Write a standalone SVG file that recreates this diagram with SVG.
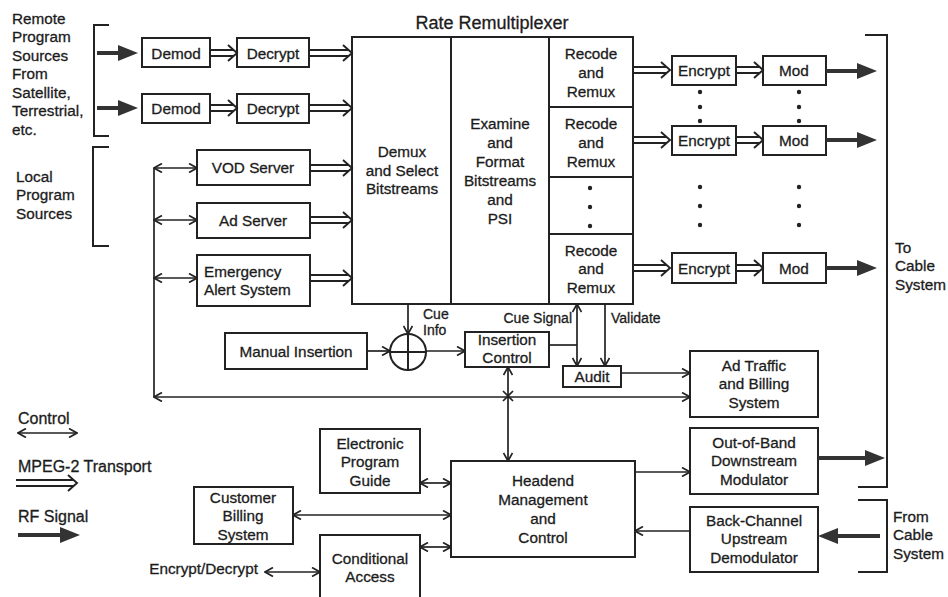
<svg xmlns="http://www.w3.org/2000/svg" width="948" height="597" viewBox="0 0 948 597">
<defs>
<style>
text{font-family:"Liberation Sans",Arial,sans-serif;font-size:15.3px;fill:#1c1c1c;stroke:#1c1c1c;stroke-width:0.3}
.c{text-anchor:middle}
.s{font-size:14px}
.t{font-size:18px}
.lg{font-size:16px}
rect,.box{fill:#fff;stroke:#222;stroke-width:2}
.ln{fill:none;stroke:#222;stroke-width:1.7}
.ctl{fill:none;stroke:#222;stroke-width:1.7;marker-end:url(#ah);marker-start:url(#ah)}
.one{fill:none;stroke:#222;stroke-width:1.7;marker-end:url(#ah)}
.dbl{fill:none;stroke:#222;stroke-width:1.9;stroke-linejoin:miter}
.rf{fill:none;stroke:#333;stroke-width:4;marker-end:url(#rf)}
.br{fill:none;stroke:#222;stroke-width:2}
.dot{fill:#222}
</style>
<marker id="ah" viewBox="0 0 10 10" refX="9" refY="5" markerWidth="10" markerHeight="10" markerUnits="userSpaceOnUse" orient="auto-start-reverse">
<path d="M1,0.5 L9,5 L1,9.5" fill="none" stroke="#222" stroke-width="1.7"/>
</marker>
<marker id="rf" viewBox="0 0 20 16" refX="4" refY="8" markerWidth="20" markerHeight="16" markerUnits="userSpaceOnUse" orient="auto">
<path d="M0,0 L20,8 L0,16 Z" fill="#333"/>
</marker>
</defs>
<rect x="0" y="0" width="948" height="597" style="fill:#fff;stroke:none"/>

<g id="remote-sources">
<text x="12" y="23.5">Remote</text>
<text x="12" y="42">Program</text>
<text x="12" y="60.5">Sources</text>
<text x="12" y="79">From</text>
<text x="12" y="97.5">Satellite,</text>
<text x="12" y="116">Terrestrial,</text>
<text x="12" y="134.5">etc.</text>
<path class="br" d="M109,25 H94 V136 H109"/>
</g>
<g id="local-sources">
<text x="16" y="181.5">Local</text>
<text x="16" y="200">Program</text>
<text x="16" y="218.5">Sources</text>
<path class="br" d="M109,147 H93 V246 H109"/>
</g>
<g id="to-cable">
<path class="br" d="M865,35 H887 V487 H858"/>
<text x="895" y="252.5">To</text>
<text x="895" y="271">Cable</text>
<text x="895" y="289.5">System</text>
</g>
<g id="from-cable">
<path class="br" d="M858,500 H887 V572 H858"/>
<text x="893" y="521.5">From</text>
<text x="893" y="540">Cable</text>
<text x="893" y="558.5">System</text>
</g>

<g id="demod1"><rect x="142" y="38" width="68" height="29"/><text class="c" x="176" y="58.5">Demod</text></g>
<g id="decrypt1"><rect x="237" y="38" width="72" height="29"/><text class="c" x="273" y="58.5">Decrypt</text></g>
<g id="demod2"><rect x="142" y="94" width="68" height="29"/><text class="c" x="176" y="114">Demod</text></g>
<g id="decrypt2"><rect x="237" y="94" width="72" height="29"/><text class="c" x="273" y="114">Decrypt</text></g>

<g id="vod"><rect x="197" y="150" width="113" height="35"/><text class="c" x="253" y="173">VOD Server</text></g>
<g id="adserver"><rect x="197" y="203" width="113" height="35"/><text class="c" x="253" y="226">Ad Server</text></g>
<g id="eas"><rect x="197" y="255" width="113" height="51"/><text x="204" y="276.5">Emergency</text><text x="204" y="295">Alert System</text></g>

<g id="remux">
<text class="c t" x="492" y="29">Rate Remultiplexer</text>
<rect x="352" y="37" width="281" height="267"/>
<path class="ln" style="stroke-width:2" d="M451,37 V304 M549,37 V304 M549,107 H633 M549,177 H633 M549,234 H633"/>
<text class="c" x="402" y="157">Demux</text>
<text class="c" x="402" y="175.5">and Select</text>
<text class="c" x="402" y="194">Bitstreams</text>
<text class="c" x="500" y="128.5">Examine</text>
<text class="c" x="500" y="147.5">and</text>
<text class="c" x="500" y="166.5">Format</text>
<text class="c" x="500" y="185.5">Bitstreams</text>
<text class="c" x="500" y="204.5">and</text>
<text class="c" x="500" y="223.5">PSI</text>
<text class="c" x="591" y="58.5">Recode</text>
<text class="c" x="591" y="77.5">and</text>
<text class="c" x="591" y="96.5">Remux</text>
<text class="c" x="591" y="128.5">Recode</text>
<text class="c" x="591" y="147.5">and</text>
<text class="c" x="591" y="166.5">Remux</text>
<circle class="dot" cx="590" cy="188" r="2.2"/>
<circle class="dot" cx="590" cy="207" r="2.2"/>
<circle class="dot" cx="590" cy="226" r="2.2"/>
<text class="c" x="591" y="255.5">Recode</text>
<text class="c" x="591" y="274">and</text>
<text class="c" x="591" y="292.5">Remux</text>
</g>

<g id="encrypt1"><rect x="672" y="56" width="64" height="29"/><text class="c" x="704" y="76">Encrypt</text></g>
<g id="mod1"><rect x="763" y="56" width="63" height="29"/><text class="c" x="794" y="76">Mod</text></g>
<g id="encrypt2"><rect x="672" y="126" width="64" height="29"/><text class="c" x="704" y="146">Encrypt</text></g>
<g id="mod2"><rect x="763" y="126" width="63" height="29"/><text class="c" x="794" y="146">Mod</text></g>
<g id="encrypt3"><rect x="672" y="253" width="64" height="30"/><text class="c" x="704" y="273.5">Encrypt</text></g>
<g id="mod3"><rect x="763" y="253" width="63" height="30"/><text class="c" x="794" y="273.5">Mod</text></g>
<g id="dots">
<circle class="dot" cx="700" cy="92" r="2.2"/><circle class="dot" cx="700" cy="107" r="2.2"/><circle class="dot" cx="700" cy="121" r="2.2"/>
<circle class="dot" cx="799" cy="92" r="2.2"/><circle class="dot" cx="799" cy="107" r="2.2"/><circle class="dot" cx="799" cy="121" r="2.2"/>
<circle class="dot" cx="700" cy="187" r="2.2"/><circle class="dot" cx="700" cy="206" r="2.2"/><circle class="dot" cx="700" cy="225" r="2.2"/>
<circle class="dot" cx="799" cy="187" r="2.2"/><circle class="dot" cx="799" cy="206" r="2.2"/><circle class="dot" cx="799" cy="225" r="2.2"/>
</g>

<g id="manual"><rect x="225" y="333" width="142" height="36"/><text class="c" x="296" y="356.5">Manual Insertion</text></g>
<g id="summer"><circle cx="408" cy="352" r="18" style="fill:#fff;stroke:#222;stroke-width:2"/><path class="ln" style="stroke-width:2" d="M408,334 V370 M390,352 H426"/></g>
<g id="inscontrol"><rect x="465" y="332" width="84" height="35"/><text class="c" x="507" y="345">Insertion</text><text class="c" x="507" y="363">Control</text></g>
<g id="audit"><rect x="563" y="366" width="58" height="21"/><text class="c" x="592" y="382">Audit</text></g>
<g id="adtraffic"><rect x="690" y="351" width="128" height="66"/><text class="c" x="754" y="370.5">Ad Traffic</text><text class="c" x="754" y="389">and Billing</text><text class="c" x="754" y="407.5">System</text></g>

<g id="epg"><rect x="320" y="429" width="100" height="64"/><text class="c" x="370" y="448.5">Electronic</text><text class="c" x="370" y="467">Program</text><text class="c" x="370" y="485.5">Guide</text></g>
<g id="billing"><rect x="194" y="487" width="99" height="57"/><text class="c" x="243" y="502.5">Customer</text><text class="c" x="243" y="521">Billing</text><text class="c" x="243" y="539.5">System</text></g>
<g id="ca"><rect x="320" y="535" width="100" height="63"/><text class="c" x="370" y="563.5">Conditional</text><text class="c" x="370" y="582">Access</text></g>
<g id="headend"><rect x="451" y="461" width="184" height="96"/><text class="c" x="543" y="485.5">Headend</text><text class="c" x="543" y="504.5">Management</text><text class="c" x="543" y="523.5">and</text><text class="c" x="543" y="542.5">Control</text></g>
<g id="oob"><rect x="690" y="428" width="128" height="66"/><text class="c" x="754" y="447.5">Out-of-Band</text><text class="c" x="754" y="466">Downstream</text><text class="c" x="754" y="484.5">Modulator</text></g>
<g id="backchannel"><rect x="690" y="507" width="128" height="65"/><text class="c" x="754" y="525.5">Back-Channel</text><text class="c" x="754" y="544">Upstream</text><text class="c" x="754" y="562.5">Demodulator</text></g>

<g id="labels">
<text class="s" x="423" y="319">Cue</text>
<text class="s" x="423" y="335">Info</text>
<text class="s" x="572" y="323" text-anchor="end">Cue Signal</text>
<text class="s" x="611" y="323">Validate</text>
<text x="258" y="573.5" text-anchor="end">Encrypt/Decrypt</text>
</g>

<g id="legend">
<text class="lg" x="18" y="424">Control</text>
<path class="ctl" d="M18,433 H77"/>
<text class="lg" x="18" y="472">MPEG-2 Transport</text>
<path class="dbl" d="M16,480 H74 M16,486 H74 M68,475 L77,483 L68,491"/>
<text class="lg" x="18" y="522">RF Signal</text>
<path class="rf" d="M18,535 H64"/>
</g>

<g id="connectors">
<path class="rf" d="M97,53 H122"/>
<path class="rf" d="M97,108 H122"/>
<path class="dbl" d="M210,50 H234 M210,56 H234 M228,45 L237,53 L228,61"/>
<path class="dbl" d="M309,50 H349 M309,56 H349 M343,45 L352,53 L343,61"/>
<path class="dbl" d="M210,105 H234 M210,111 H234 M228,100 L237,108 L228,116"/>
<path class="dbl" d="M309,105 H349 M309,111 H349 M343,100 L352,108 L343,116"/>
<path class="dbl" d="M310,165 H349 M310,171 H349 M343,160 L352,168 L343,176"/>
<path class="dbl" d="M310,217 H349 M310,223 H349 M343,212 L352,220 L343,228"/>
<path class="dbl" d="M310,275 H349 M310,281 H349 M343,270 L352,278 L343,286"/>
<path class="dbl" d="M633,67 H667 M633,73 H667 M661,62 L670,70 L661,78"/>
<path class="dbl" d="M633,137 H667 M633,143 H667 M661,132 L670,140 L661,148"/>
<path class="dbl" d="M633,265 H667 M633,271 H667 M661,260 L670,268 L661,276"/>
<path class="dbl" d="M736,67 H760 M736,73 H760 M754,62 L763,70 L754,78"/>
<path class="dbl" d="M736,137 H760 M736,143 H760 M754,132 L763,140 L754,148"/>
<path class="dbl" d="M736,265 H760 M736,271 H760 M754,260 L763,268 L754,276"/>
<path class="rf" d="M826,71 H861"/>
<path class="rf" d="M826,140 H861"/>
<path class="rf" d="M826,268 H861"/>
<path class="rf" d="M818,458 H869"/>
<path class="rf" d="M880,536 H834"/>
<path class="ln" d="M154,168 V397"/>
<path class="ctl" d="M154,168 H197"/>
<path class="ctl" d="M154,220 H197"/>
<path class="ctl" d="M154,278 H197"/>
<path class="ctl" d="M154,397 H690"/>
<path class="ln" d="M503,391 L513,401 M513,391 L503,401"/>
<path class="ctl" d="M508,367 V461"/>
<path class="one" d="M408,304 V334"/>
<path class="one" d="M367,351 H390"/>
<path class="one" d="M426,351 H465"/>
<path class="ln" d="M549,345 H577"/>
<path class="ctl" d="M577,304 V366"/>
<path class="one" d="M605,304 V366"/>
<path class="one" d="M621,373 H690"/>
<path class="ctl" d="M420,483 H451"/>
<path class="ctl" d="M293,515 H451"/>
<path class="ctl" d="M420,547 H451"/>
<path class="ctl" d="M265,572 H320"/>
<path class="one" d="M635,472 H690"/>
<path class="one" d="M690,531 H635"/>
</g>
</svg>
